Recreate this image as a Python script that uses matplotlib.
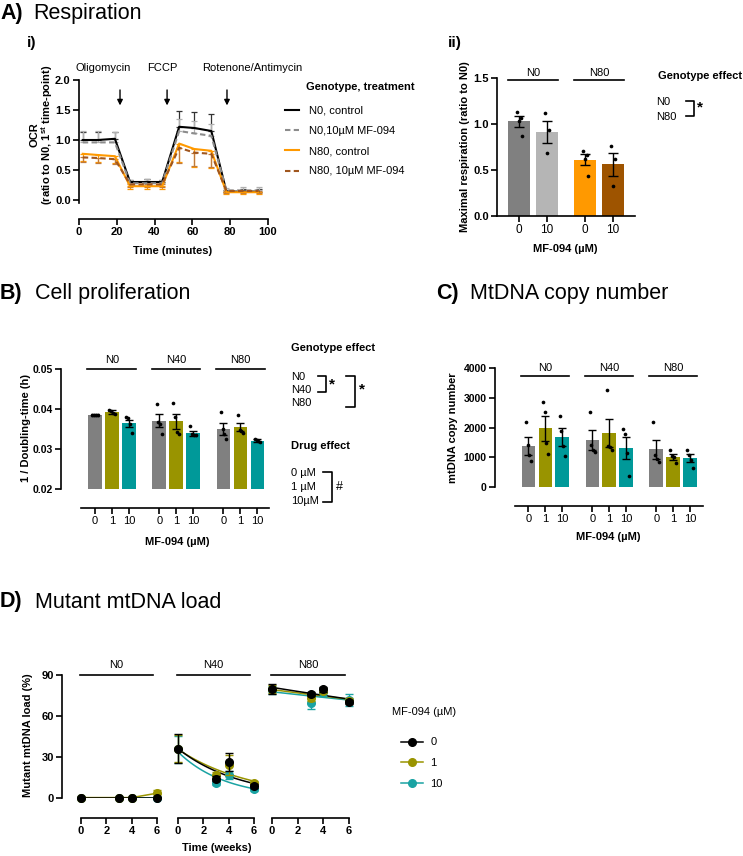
import matplotlib
matplotlib.use('Agg')
import matplotlib.pyplot as plt
from matplotlib.lines import Line2D
import numpy as np

plt.rcParams['font.family'] = ['Liberation Sans', 'DejaVu Sans']
plt.rcParams['mathtext.fontset'] = 'custom'
plt.rcParams['mathtext.rm'] = 'Liberation Sans'
plt.rcParams['mathtext.bf'] = 'Liberation Sans:bold'
plt.rcParams['axes.linewidth'] = 1.2

# ---- A i) Seahorse OCR trace
time_min = [2, 10, 19, 27, 36, 44, 53, 61, 70, 78, 87, 95]
ocr_n0_ctrl = [1.00, 1.00, 1.02, 0.30, 0.30, 0.30, 1.22, 1.20, 1.15, 0.14, 0.14, 0.14]
ocr_n0_ctrl_sem = [0.14, 0.14, 0.12, 0.04, 0.05, 0.04, 0.26, 0.26, 0.28, 0.03, 0.04, 0.04]
ocr_n0_mf = [0.96, 0.96, 0.96, 0.28, 0.28, 0.28, 1.15, 1.11, 1.07, 0.16, 0.16, 0.16]
ocr_n0_mf_sem = [0.19, 0.19, 0.18, 0.05, 0.07, 0.05, 0.20, 0.20, 0.20, 0.04, 0.05, 0.05]
ocr_n80_ctrl = [0.77, 0.75, 0.73, 0.23, 0.23, 0.23, 0.94, 0.85, 0.82, 0.13, 0.13, 0.13]
ocr_n80_ctrl_sem = [0.12, 0.12, 0.12, 0.05, 0.05, 0.05, 0.30, 0.30, 0.28, 0.03, 0.03, 0.03]
ocr_n80_mf = [0.71, 0.70, 0.68, 0.26, 0.26, 0.26, 0.87, 0.79, 0.77, 0.15, 0.15, 0.15]
ocr_n80_mf_sem = [0.08, 0.08, 0.08, 0.04, 0.04, 0.04, 0.25, 0.22, 0.22, 0.03, 0.03, 0.03]
ocr_labels = ['N0, control', 'N0,10µM MF-094', 'N80, control', 'N80, 10µM MF-094']
injections = ['Oligomycin', 'FCCP', 'Rotenone/Antimycin']
injection_time = [21.7, 46.6, 78.3]

# ---- A ii) maximal respiration
resp_groups = ['N0', 'N80']
resp_doses = ['0', '10', '0', '10']
resp_means = [1.03, 0.91, 0.61, 0.565]
resp_sem = [0.06, 0.12, 0.06, 0.125]
resp_points = [[1.13, 1.07, 1.03, 0.87], [1.12, 0.93, 0.69],
               [0.71, 0.66, 0.62, 0.44], [0.76, 0.62, 0.33]]
resp_colors = ['#808080', '#b5b5b5', '#ff9900', '#9e5400']

# ---- B) proliferation / C) copy number (3 genotypes x 3 doses)
geno3 = ['N0', 'N40', 'N80']
doses3 = ['0', '1', '10']
dose_colors = ['#808080', '#999400', '#009999']

prolif_means = [0.0385, 0.0392, 0.0364, 0.0371, 0.0369, 0.0339, 0.0351, 0.0354, 0.0321]
prolif_sem = [0.0002, 0.0005, 0.0008, 0.0017, 0.0019, 0.0007, 0.0015, 0.0010, 0.0003]
prolif_points = [[0.0386, 0.0385, 0.0385, 0.0384], [0.0398, 0.0395, 0.0389, 0.0387],
                 [0.0379, 0.0377, 0.0362, 0.0340], [0.0413, 0.0368, 0.0363, 0.0338],
                 [0.0416, 0.0380, 0.0342, 0.0338], [0.0357, 0.0338, 0.0335, 0.0336],
                 [0.0393, 0.0350, 0.0337, 0.0325], [0.0386, 0.0347, 0.0345, 0.0340],
                 [0.0326, 0.0322, 0.0320, 0.0318]]

copy_means = [1380, 1980, 1670, 1580, 1805, 1310, 1267, 1020, 965]
copy_sem = [290, 420, 300, 320, 470, 360, 310, 100, 140]
copy_points = [[2200, 1400, 1080, 880], [2870, 2510, 1470, 1110],
               [2400, 1870, 1370, 1040], [2510, 1400, 1250, 1160],
               [3250, 1380, 1340, 1250], [1950, 1780, 1130, 370],
               [2200, 1080, 950, 840], [1250, 1030, 1000, 800],
               [1250, 1060, 900, 650]]

# ---- D) mutant load over time
weeks = [0, 3, 4, 6]
load_n0 = [[0.3, 0.3, 0.3, 0.3], [0.3, 0.3, 0.3, 3.5], [0.3, 0.3, 0.3, 0.3]]
load_n0_sem = [[0.2, 0.2, 0.2, 0.2], [0.2, 0.2, 0.2, 2.5], [0.2, 0.2, 0.2, 0.3]]
load_n40 = [[36.1, 14.1, 26.1, 9.0], [36.0, 16.8, 24.1, 11.2], [35.5, 10.7, 16.6, 6.3]]
load_n40_sem = [[10.5, 2.0, 6.5, 1.5], [10.0, 2.0, 7.0, 1.5], [10.0, 1.5, 3.0, 1.0]]
load_n80 = [[79.8, 75.9, 79.5, 70.0], [79.5, 72.9, 78.5, 71.2], [79.2, 69.3, 77.8, 71.7]]
load_n80_sem = [[3.5, 1.5, 2.0, 1.5], [3.0, 2.0, 2.0, 2.0], [3.0, 4.0, 3.0, 4.5]]
load_colors = ['black', '#999400', '#1aa3a3']

W, H = 743, 856
fig = plt.figure(figsize=(W / 100, H / 100), dpi=100)
PT = 0.72  # px -> pt at dpi 100


def px_axes(l, t, r, b):
    return fig.add_axes([l / W, 1 - b / H, (r - l) / W, (b - t) / H])


def put(x, y, s, **kw):
    kw.setdefault('ha', 'left')
    kw.setdefault('va', 'center')
    kw.setdefault('fontsize', 8)
    return fig.text(x / W, 1 - y / H, s, **kw)


def fig_line(xs, ys, lw=1.2):
    fig.add_artist(Line2D([x / W for x in xs], [1 - y / H for y in ys],
                          transform=fig.transFigure, color='black', lw=lw))


def clean(ax):
    ax.spines['top'].set_visible(False)
    ax.spines['right'].set_visible(False)
    ax.tick_params(width=1.2, length=4, labelsize=8, pad=2)


def title(y, letter, s, x1=0, x2=35):
    put(x1, y, letter, fontsize=15.5, fontweight='bold')
    put(x2, y, s, fontsize=15.5)


# ================= A i
title(13, 'A)', 'Respiration', 0, 33)
put(27, 43, 'i)', fontsize=11, fontweight='bold')
axA = px_axes(79, 80, 268, 203)
clean(axA)
axA.set_xlim(0, 100)
axA.set_ylim(-0.05, 2.0)
axA.spines['left'].set_bounds(-0.05, 2.0)
axA.spines['bottom'].set_position(('outward', 16 * PT))
dash = (0, (2.6, 1.6))
series = [(ocr_n0_ctrl, ocr_n0_ctrl_sem, 'black', '-', '#333333', 1),
          (ocr_n0_mf, ocr_n0_mf_sem, '#8c8c8c', dash, '#b0b0b0', 1),
          (ocr_n80_ctrl, ocr_n80_ctrl_sem, '#ff9900', '-', '#ff9900', -1),
          (ocr_n80_mf, ocr_n80_mf_sem, '#a0561e', dash, '#c07a3a', -1)]
handles = []
for (y, e, c, ls, ec, side), lab in zip(series, ocr_labels):
    zero = np.zeros(len(e))
    yerr = [zero, e] if side > 0 else [e, zero]
    axA.errorbar(time_min, y, yerr=yerr, fmt='none', ecolor=ec, elinewidth=0.9,
                 capsize=2.5, capthick=0.9, zorder=1)
    h, = axA.plot(time_min, y, color=c, ls=ls, lw=1.5, zorder=2, label=lab)
    handles.append(h)
for name, t in zip(injections, injection_time):
    axA.annotate('', xy=(t, 1.53), xytext=(t, 1.88),
                 arrowprops=dict(arrowstyle='-|>', color='black', lw=1.0,
                                 mutation_scale=8))
axA.text(12.7, 2.2, injections[0], ha='center', va='center', fontsize=8, clip_on=False)
axA.text(44, 2.2, injections[1], ha='center', va='center', fontsize=8, clip_on=False)
axA.text(65, 2.2, injections[2], ha='left', va='center', fontsize=8, clip_on=False)
axA.set_xticks([0, 20, 40, 60, 80, 100], labels=['0', '20', '40', '60', '80', '100'],
               fontweight='bold')
axA.set_yticks([0, 0.5, 1.0, 1.5, 2.0], labels=['0.0', '0.5', '1.0', '1.5', '2.0'],
               fontweight='bold')
put(173, 251, 'Time (minutes)', ha='center', fontweight='bold')
put(42, 135, 'OCR\n(ratio to N0, 1$^{\\mathbf{st}}$ time-point)', ha='center',
    rotation=90, fontweight='bold', linespacing=1.0)
put(306, 87, 'Genotype, treatment', fontweight='bold')
fig.legend(handles=handles, loc='upper left', frameon=False, fontsize=8,
           bbox_to_anchor=(281 / W, 1 - 101 / H), handlelength=1.25,
           handletextpad=0.9, labelspacing=0.93, borderaxespad=0)

# ================= A ii
put(448, 43, 'ii)', fontsize=11, fontweight='bold')
axR = px_axes(497, 78, 635, 216)
clean(axR)
pos_r = np.array([0, 28, 66, 94], dtype=float)
axR.set_xlim(-22, 116)
axR.set_ylim(0, 1.5)
axR.bar(pos_r, resp_means, width=22, color=resp_colors, zorder=1)
axR.errorbar(pos_r, resp_means, yerr=resp_sem, fmt='none', ecolor='black',
             elinewidth=1, capsize=3.5, capthick=1, zorder=3)
jit = [-2, 1.5, -0.5, 2.5]
for p, pts in zip(pos_r, resp_points):
    axR.scatter(p + np.array(jit[:len(pts)]), pts, s=7, color='black', zorder=4,
                linewidths=0)
for i, g in enumerate(resp_groups):
    a, b = pos_r[2 * i] - 11, pos_r[2 * i + 1] + 11
    axR.plot([a, b], [1.478, 1.478], color='black', lw=1.2, clip_on=False)
    axR.text((a + b) / 2, 1.555, g, ha='center', va='center', fontsize=8, clip_on=False)
axR.set_xticks(pos_r, labels=resp_doses, fontsize=8.5)
axR.set_yticks([0, 0.5, 1.0, 1.5], labels=['0.0', '0.5', '1.0', '1.5'], fontweight='bold')
put(565, 249, 'MF-094 (µM)', ha='center', fontweight='bold')
put(465, 147, 'Maximal respiration (ratio to N0)', ha='center', rotation=90,
    fontweight='bold')
put(658, 76, 'Genotype effect', fontweight='bold')
put(656, 102, 'N0')
put(656, 117, 'N80')
fig_line([686, 694, 694, 686], [101, 101, 116, 116])
put(697, 107, '*', fontsize=11, fontweight='bold')

# positions for 3x3 bar panels
pos9 = np.array([0, 1, 2, 3.78, 4.78, 5.78, 7.56, 8.56, 9.56])
bar_cols = dose_colors * 3
jit9 = np.array([-0.16, -0.05, 0.06, 0.16])


def bar_panel(ax, means, sem, points, ylims, yticks, ylabels, gl_y, gt_y, lo, hi):
    clean(ax)
    ax.set_ylim(*ylims)
    ax.bar(pos9, means, width=0.8, color=bar_cols, zorder=1)
    ax.errorbar(pos9, means, yerr=sem, fmt='none', ecolor='black', elinewidth=1,
                capsize=3, capthick=1, zorder=3)
    for p, pts in zip(pos9, points):
        ax.scatter(p + jit9[:len(pts)], pts, s=7, color='black', zorder=4, linewidths=0)
    for i, g in enumerate(geno3):
        a, b = pos9[3 * i] - 0.45, pos9[3 * i + 2] + 0.42
        ax.plot([a, b], [gl_y, gl_y], color='black', lw=1.2, clip_on=False)
        ax.text((a + b) / 2, gt_y, g, ha='center', va='center', fontsize=8, clip_on=False)
    ax.set_xticks(pos9, labels=doses3 * 3, fontsize=8)
    ax.set_yticks(yticks, labels=ylabels, fontweight='bold', fontsize=7.5)
    ax.set_xlim(lo, hi)
    ax.spines['bottom'].set_bounds(lo + 1.2, hi)
    ax.spines['bottom'].set_position(('outward', 19 * PT))


# ================= B
title(293, 'B)', 'Cell proliferation')
axB = px_axes(61, 369, 269, 489)
bar_panel(axB, prolif_means, prolif_sem, prolif_points, (0.02, 0.05),
          [0.02, 0.03, 0.04, 0.05], ['0.02', '0.03', '0.04', '0.05'],
          0.05, 0.0523, -2.0, 10.24)
put(177, 542, 'MF-094 (µM)', ha='center', fontweight='bold')
put(26, 428, '1 / Doubling-time (h)', ha='center', rotation=90, fontweight='bold')
put(291, 348, 'Genotype effect', fontweight='bold')
put(291, 377, 'N0')
put(291, 390, 'N40')
put(291, 403, 'N80')
fig_line([318, 326, 326, 318], [376, 376, 392, 392])
put(329, 384, '*', fontsize=11, fontweight='bold')
fig_line([346, 355, 355, 346], [376, 376, 407, 407])
put(359, 389, '*', fontsize=11, fontweight='bold')
put(291, 446, 'Drug effect', fontweight='bold')
put(291, 473, '0 µM')
put(291, 487, '1 µM')
put(291, 501, '10µM')
fig_line([323, 332, 332, 323], [472, 472, 502, 502])
put(336, 487, '#', fontsize=9)

# ================= C
title(293, 'C)', 'MtDNA copy number', 436, 470)
axC = px_axes(495, 368, 703, 487)
bar_panel(axC, copy_means, copy_sem, copy_points, (0, 4000),
          [0, 1000, 2000, 3000, 4000], ['0', '1000', '2000', '3000', '4000'],
          3731, 4000, -1.98, 10.33)
put(608, 537, 'MF-094 (µM)', ha='center', fontweight='bold')
put(453, 428, 'mtDNA copy number', ha='center', rotation=90, fontweight='bold')

# ================= D
title(602, 'D)', 'Mutant mtDNA load')
d_axes = [px_axes(81, 675, 157, 798), px_axes(178, 675, 254, 798),
          px_axes(272, 675, 349, 798)]
loads = [(load_n0, load_n0_sem, False), (load_n40, load_n40_sem, True),
         (load_n80, load_n80_sem, True)]
tgrid = np.linspace(0, 6, 60)
for k, (ax, (vals, errs, fit)) in enumerate(zip(d_axes, loads)):
    clean(ax)
    ax.set_xlim(0, 6)
    ax.set_ylim(0, 90)
    ax.spines['bottom'].set_position(('outward', 20 * PT))
    for j in [2, 1, 0]:
        c = load_colors[j]
        if fit:
            slope, icpt = np.polyfit(weeks, np.log(vals[j]), 1)
            ax.plot(tgrid, np.exp(icpt + slope * tgrid), color=c, lw=1.1, zorder=2)
        else:
            ax.plot(weeks, vals[j], color=c, lw=1.1, zorder=2)
        ax.errorbar(weeks, vals[j], yerr=errs[j], fmt='o', color=c, ms=5.5,
                    elinewidth=1, capsize=3, capthick=1, zorder=3 + (2 - j),
                    clip_on=False)
    ax.plot([-0.05, 5.65], [90, 90], color='black', lw=1.2, clip_on=False)
    ax.text(2.8, 97.3, geno3[k], ha='center', va='center', fontsize=8, clip_on=False)
    ax.set_xticks([0, 2, 4, 6], labels=['0', '2', '4', '6'], fontweight='bold')
    if k == 0:
        ax.spines['left'].set_position(('outward', 19 * PT))
        ax.set_yticks([0, 30, 60, 90], labels=['0', '30', '60', '90'], fontweight='bold')
    else:
        ax.spines['left'].set_visible(False)
        ax.set_yticks([])
put(217, 848, 'Time (weeks)', ha='center', fontweight='bold')
put(28, 735, 'Mutant mtDNA load (%)', ha='center', rotation=90, fontweight='bold')
d_handles = [Line2D([], [], color=c, marker='o', ms=5.5, lw=1.1) for c in load_colors]
put(392, 712, 'MF-094 (µM)')
fig.legend(handles=d_handles, labels=['0', '1', '10'], loc='upper left', frameon=False,
           fontsize=8, bbox_to_anchor=(397 / W, 1 - 733 / H), handlelength=1.9,
           handletextpad=0.7, labelspacing=0.95, borderaxespad=0)

fig.savefig('out.png', dpi=100)
